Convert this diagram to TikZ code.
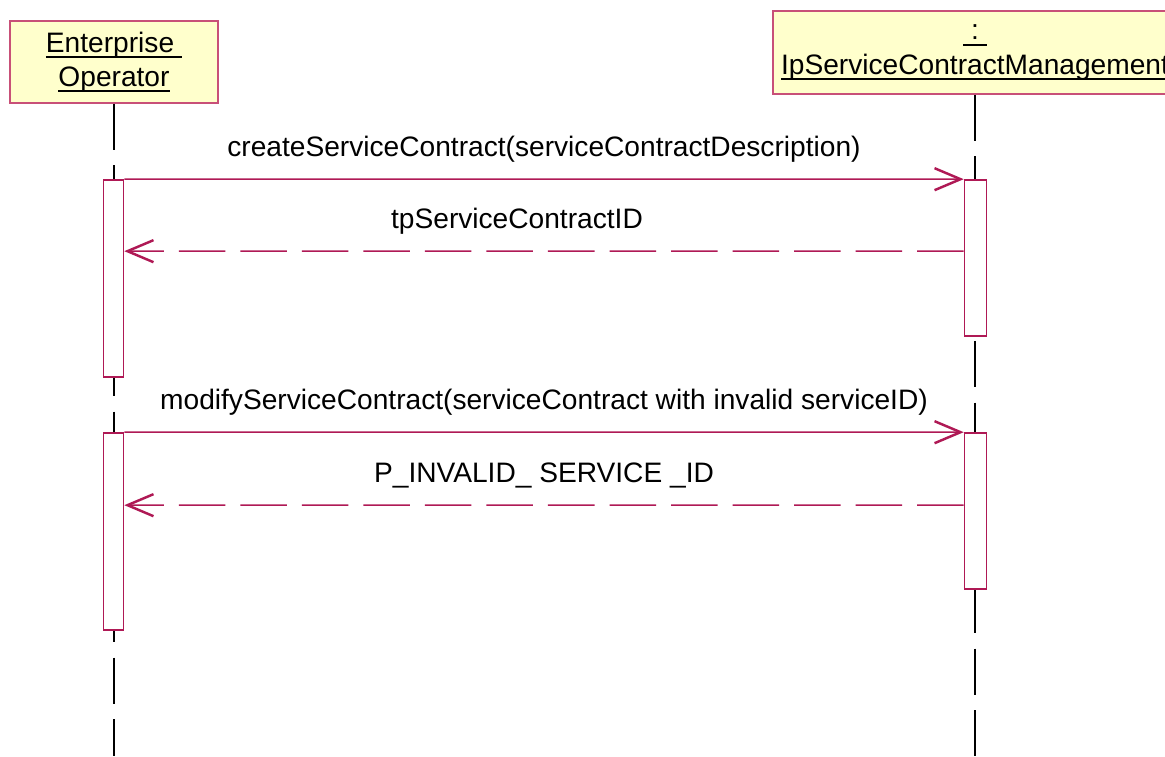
\documentclass[tikz,border=0pt]{standalone}
\usepackage{fontspec}
\setmainfont{Liberation Sans}
\usetikzlibrary{arrows.meta, calc}
\definecolor{umlred}{RGB}{175,25,85}
\definecolor{umlbox}{RGB}{200,80,120}
\definecolor{umlfill}{RGB}{255,255,204}
\newcommand{\uln}[1]{\setbox0\hbox{#1}\rlap{\rule[-0.06cm]{\wd0}{0.02cm}}\box0}

\begin{document}
\begin{tikzpicture}[x=0.01cm, y=-0.01cm,
    font=\fontsize{8}{9.7}\selectfont,
    objbox/.style={rectangle, draw=umlbox, fill=umlfill, line width=0.45pt, align=center, inner sep=0pt},
    actbox/.style={rectangle, draw=umlred, fill=white, line width=0.45pt, inner sep=0pt, minimum width=0.2cm},
    life/.style={line width=0.3pt, dash pattern=on 0.46cm off 0.155cm},
    msg/.style={draw=umlred, line width=0.45pt, -{Straight Barb[length=0.26cm, width=0.22cm, line width=0.7pt]}},
    ret/.style={msg, dash pattern=on 0.465cm off 0.15cm},
    lbl/.style={midway, anchor=base, yshift=0.23cm}]
    \useasboundingbox (0,0) rectangle (1165,756);

    \node[objbox, minimum width=2.08cm, minimum height=0.82cm] (eo) at (114,62) {\uln{Enterprise\ }\\\uln{Operator}};
    \node[objbox, minimum width=4.04cm, minimum height=0.83cm] (scm) at (975,52.5) {\uln{\ :\ }\\\uln{IpServiceContractManagement}};
    \coordinate (eoend) at (eo.south |- 0,756);
    \coordinate (scmend) at (scm.south |- 0,756);
    \draw[life] (eo) -- (eoend);
    \draw[life] (scm) -- (scmend);

    \node[actbox, minimum height=1.97cm] (eoact1) at (113.5,278.5) {};
    \node[actbox, minimum width=0.22cm, minimum height=1.56cm] (scmact1) at (975.5,258) {};
    \node[actbox, minimum height=1.97cm] (eoact2) at (113.5,531.5) {};
    \node[actbox, minimum width=0.22cm, minimum height=1.56cm] (scmact2) at (975.5,511) {};

    \draw[msg] (eoact1.north east) -- node[lbl] {createServiceContract(serviceContractDescription)} (scmact1.north west);
    \draw[ret] ($(scmact1.north west)+(0,72)$) -- node[lbl, xshift=-0.27cm] {tpServiceContractID} ($(eoact1.north east)+(0,72)$);
    \draw[msg] (eoact2.north east) -- node[lbl] {modifyServiceContract(serviceContract with invalid serviceID)} (scmact2.north west);
    \draw[ret] ($(scmact2.north west)+(0,73)$) -- node[lbl] {P\_INVALID\_ SERVICE \_ID} ($(eoact2.north east)+(0,73)$);
\end{tikzpicture}
\end{document}
